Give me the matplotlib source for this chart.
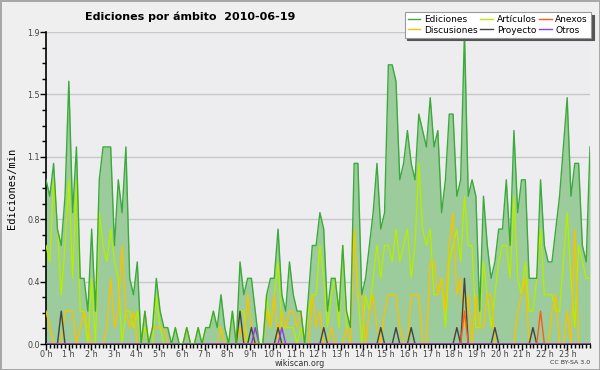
import numpy as np
import matplotlib
matplotlib.use("Agg")
import matplotlib.pyplot as plt
from matplotlib.ticker import MultipleLocator, FixedLocator

# edits per 10 minutes, 144 slots over the day
ediciones = [10, 9, 11, 7, 6, 9, 16, 8, 12, 4, 4, 2, 7, 2, 10, 12, 12, 12, 6, 10,
             8, 12, 4, 3, 5, 0, 2, 0, 1, 4, 2, 1, 1, 0, 1, 0, 0, 1, 0, 0,
             1, 0, 1, 1, 2, 1, 3, 1, 0, 2, 0, 5, 3, 4, 4, 2, 0, 0, 3, 4,
             4, 7, 3, 2, 5, 3, 2, 2, 0, 3, 6, 6, 8, 7, 2, 4, 4, 2, 6, 2,
             1, 11, 11, 3, 4, 6, 8, 11, 7, 8, 17, 17, 16, 10, 11, 13, 11, 10, 14, 13,
             12, 15, 12, 13, 8, 10, 14, 14, 9, 10, 19, 9, 10, 9, 2, 9, 6, 4, 5, 7,
             7, 10, 6, 13, 8, 10, 10, 4, 4, 4, 10, 6, 5, 5, 7, 9, 12, 15, 9, 11,
             11, 6, 5, 12]
articulos = [6, 5, 10, 7, 3, 6, 10, 4, 10, 2, 2, 0, 4, 0, 8, 6, 5, 7, 5, 4,
             0, 2, 2, 1, 2, 0, 1, 0, 0, 3, 1, 0, 0, 0, 1, 0, 0, 1, 0, 0,
             1, 0, 1, 1, 2, 1, 1, 0, 0, 2, 0, 2, 2, 0, 0, 0, 0, 0, 3, 1,
             3, 5, 1, 1, 1, 1, 0, 1, 0, 2, 3, 3, 6, 4, 1, 3, 4, 1, 6, 1,
             1, 7, 3, 0, 3, 2, 4, 6, 4, 6, 6, 5, 7, 5, 6, 7, 4, 6, 11, 7,
             6, 7, 3, 3, 4, 1, 5, 6, 7, 5, 9, 6, 6, 1, 1, 5, 3, 1, 3, 5,
             6, 6, 4, 9, 4, 3, 5, 2, 2, 4, 7, 3, 3, 3, 2, 2, 5, 8, 4, 1,
             6, 5, 4, 4]
discusiones = [2, 1, 0, 0, 0, 2, 2, 2, 0, 1, 2, 1, 0, 0, 0, 0, 1, 4, 1, 2,
               6, 2, 1, 2, 0, 0, 2, 0, 1, 1, 1, 1, 0, 0, 0, 0, 0, 1, 0, 0,
               0, 0, 0, 0, 0, 0, 1, 0, 0, 0, 0, 1, 0, 3, 1, 0, 0, 0, 2, 1,
               3, 0, 2, 1, 2, 2, 1, 2, 0, 0, 3, 1, 2, 0, 0, 1, 0, 0, 0, 1,
               0, 7, 3, 3, 0, 2, 3, 1, 0, 2, 3, 3, 3, 1, 0, 0, 3, 3, 3, 0,
               0, 5, 5, 3, 4, 2, 6, 8, 3, 4, 1, 3, 0, 3, 1, 1, 3, 3, 0, 0,
               0, 0, 0, 0, 2, 3, 4, 0, 0, 0, 0, 0, 0, 2, 3, 0, 0, 2, 0, 7,
               0, 0, 0, 0]
# sparse series: {slot: edits}
proyecto = {4: 2, 51: 2, 54: 1, 61: 1, 73: 1, 88: 1, 92: 1, 96: 1, 108: 1, 110: 4, 118: 1, 128: 1}
anexos = {110: 2, 130: 2}
otros = {55: 1, 62: 1}

series_names = ["Ediciones", "Discusiones", "Artículos", "Proyecto", "Anexos", "Otros"]
series_colors = ["#3aaa3a", "#f5c400", "#b4ee00", "#444444", "#ff5a1e", "#8a3cf0"]
hour_labels = [f"{h} h" for h in range(24)]
ytick_vals = [0.0, 0.38, 0.76, 1.14, 1.52, 1.9]
ytick_labels = ["0.0", "0.4", "0.8", "1.1", "1.5", "1.9"]


def dense(d, n=144):
    out = [0] * n
    for k, v in d.items():
        out[k] = v
    return out


n = len(ediciones)
x = np.linspace(0, 24, n)
per_min = lambda s: np.array(s) / 10.0

fig = plt.figure(figsize=(6, 3.7), dpi=100)
fig.patch.set_facecolor("#efefef")
fig.patch.set_edgecolor("#a8a8a8")
fig.patch.set_linewidth(2)

ax = fig.add_axes([46 / 600, 26 / 370, 544 / 600, 312 / 370])
ax.set_facecolor("#ededf0")

tot = per_min(ediciones)
ax.fill_between(x, 0, tot, color="#9ccb9c", lw=0, zorder=2)
ax.plot(x, tot, color=series_colors[0], lw=1.0, zorder=6)
ax.plot(x, per_min(articulos), color=series_colors[2], lw=1.0, zorder=4)
ax.plot(x, per_min(discusiones), color=series_colors[1], lw=1.0, zorder=4)
ax.plot(x, per_min(dense(proyecto)), color=series_colors[3], lw=1.0, zorder=5)
ax.plot(x, per_min(dense(anexos)), color=series_colors[4], lw=1.0, zorder=5)
ax.plot(x, per_min(dense(otros)), color=series_colors[5], lw=1.0, zorder=5)

ax.set_xlim(0, 24)
ax.set_ylim(0, 1.9)

ax.yaxis.set_major_locator(FixedLocator(ytick_vals))
ax.set_yticklabels(ytick_labels)
ax.yaxis.set_minor_locator(MultipleLocator(0.095))
ax.xaxis.set_major_locator(FixedLocator(range(24)))
ax.set_xticklabels(hour_labels)
ax.xaxis.set_minor_locator(MultipleLocator(1 / 6))

ax.tick_params(axis="both", which="major", length=4, width=1, labelsize=5.8,
               labelcolor="#444444", pad=0.5)
ax.tick_params(axis="x", which="major", pad=0)
ax.tick_params(axis="both", which="minor", length=3, width=1)
ax.grid(axis="y", which="major", color="#c8c8c8", lw=1, zorder=1)
ax.set_axisbelow(True)

for s in ["top", "right"]:
    ax.spines[s].set_visible(False)
ax.spines["left"].set_linewidth(1.2)
ax.spines["bottom"].set_linewidth(1.2)

ax.set_ylabel("Ediciones/min", family="DejaVu Sans Mono", fontsize=7.5, labelpad=7)

fig.text(85 / 600, 1 - 17 / 370, "Ediciones por ámbito  2010-06-19",
         fontsize=8, fontweight="bold", va="center", ha="left")
fig.text(300 / 600, 1 - 364 / 370, "wikiscan.org", fontsize=5.8,
         color="#333333", ha="center", va="center")
fig.text(590 / 600, 1 - 363 / 370, "CC BY-SA 3.0", fontsize=4.5,
         color="#333333", ha="right", va="center")

handles = [plt.Line2D([], [], color=c, lw=1) for c in series_colors]
leg = fig.legend(handles, series_names, ncol=3, loc="upper right",
                 bbox_to_anchor=(591 / 600, 1 - 12 / 370),
                 bbox_transform=fig.transFigure, borderaxespad=0,
                 fontsize=6.5, handlelength=1.4, handletextpad=0.4,
                 columnspacing=0.3, labelspacing=0.15, borderpad=0.35,
                 fancybox=False, framealpha=1,
                 shadow={"color": "#555555", "alpha": 1, "ox": 2, "oy": -2})
leg.get_frame().set_edgecolor("#999999")
leg.get_frame().set_linewidth(0.8)
leg.set_zorder(10)

fig.savefig("out.png", dpi=100, facecolor=fig.get_facecolor(),
            edgecolor=fig.get_edgecolor())
